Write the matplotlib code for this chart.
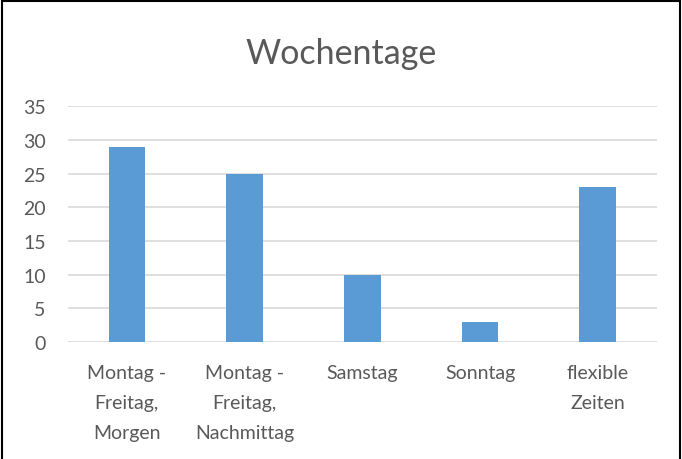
import matplotlib.pyplot as plt
from matplotlib.patches import Rectangle

categories = ['Montag -\nFreitag,\nMorgen', 'Montag -\nFreitag,\nNachmittag',
              'Samstag', 'Sonntag', 'flexible\nZeiten']
values = [29, 25, 10, 3, 23]

plt.rcParams['font.family'] = ['Lato', 'DejaVu Sans']
grey = '#595959'

fig = plt.figure(figsize=(6.82, 4.60), dpi=100)
ax = fig.add_axes([0.0997, 0.254, 0.863, 0.513])

xs = range(len(categories))
ax.bar(xs, values, width=0.31, color='#5B9BD5', zorder=3)

ax.set_ylim(0, 35)
ax.set_xlim(-0.5, len(categories) - 0.5)
ax.set_yticks(range(0, 36, 5))
ax.yaxis.grid(True, color='#D9D9D9', linewidth=1.2, zorder=0)
ax.set_xticks(list(xs))
ax.set_xticklabels(categories, linespacing=1.9, va='top')
ax.tick_params(length=0, labelsize=14, colors=grey)
ax.tick_params(axis='x', pad=16)
ax.tick_params(axis='y', pad=16)
for s in ax.spines.values():
    s.set_visible(False)

fig.text(0.5, 0.882, 'Wochentage', ha='center', va='center', fontsize=24.5, color=grey)

# schwarzer Rahmen um das Diagramm
fig.patches.append(Rectangle((0.003, -0.01), 0.994, 1.006, transform=fig.transFigure,
                             fill=False, edgecolor='black', linewidth=1.5))

plt.savefig('out.png', format='png')
